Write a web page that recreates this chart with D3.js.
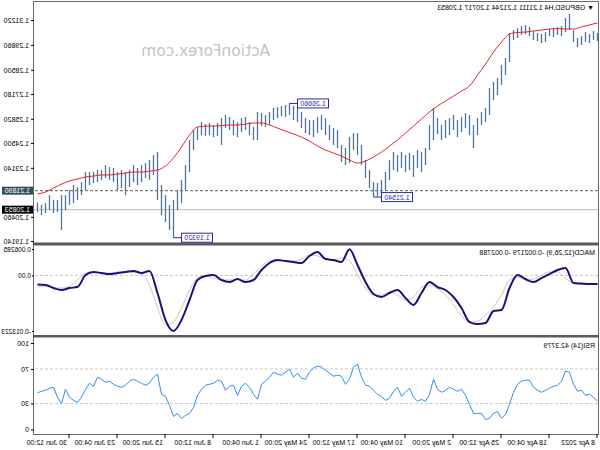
<!DOCTYPE html>
<html>
<head>
<meta charset="utf-8">
<script src="https://cdn.jsdelivr.net/npm/d3@7"></script>
<style>
  body { margin: 0; background: #fff; }
  svg { display: block; }
  .ax text { font-family: "Liberation Sans", Arial, sans-serif; font-size: 7px; fill: #000; }
  .ax line { stroke: #000; }
  .ax path { display: none; }
</style>
</head>
<body>
<svg id="chart" width="600" height="450"></svg>
<script>
// GBPUSD H4, one entry every ~2.7 H4 bars (8 Apr -> early Jul 2022)
const highs = [
  1.3051, 1.3062, 1.3045, 1.3056, 1.3034, 1.3024, 1.3067, 1.3155, 1.3133, 1.3089,
  1.3084, 1.3078, 1.3073, 1.3056, 1.3045, 1.3051, 1.3062, 1.3084, 1.3095, 1.3089,
  1.3078, 1.3067, 1.3051, 1.2914, 1.2876, 1.2805, 1.2783, 1.2750, 1.2641, 1.2619,
  1.2586, 1.2548, 1.2603, 1.2613, 1.2592, 1.2575, 1.2603, 1.2586, 1.2575, 1.2548,
  1.2586, 1.2641, 1.2548, 1.2422, 1.2400, 1.2411, 1.2384, 1.2395, 1.2384, 1.2400,
  1.2384, 1.2400, 1.2357, 1.2291, 1.2247, 1.2231, 1.2236, 1.2302, 1.2357, 1.2439,
  1.2504, 1.2504, 1.2482, 1.2422, 1.2439, 1.2521, 1.2531, 1.2548, 1.2586, 1.2603,
  1.2592, 1.2575, 1.2575, 1.2586, 1.2619, 1.2641, 1.2652, 1.2666, 1.2657, 1.2652,
  1.2646, 1.2641, 1.2619, 1.2603, 1.2613, 1.2619, 1.2537, 1.2564, 1.2592, 1.2586,
  1.2564, 1.2575, 1.2592, 1.2603, 1.2586, 1.2559, 1.2548, 1.2559, 1.2553, 1.2564,
  1.2537, 1.2521, 1.2466, 1.2329, 1.2247, 1.2192, 1.2138, 1.2111, 1.2165, 1.2220,
  1.2400, 1.2384, 1.2357, 1.2340, 1.2329, 1.2313, 1.2329, 1.2302, 1.2291, 1.2302,
  1.2291, 1.2313, 1.2318, 1.2329, 1.2302, 1.2302, 1.2291, 1.2291, 1.2291, 1.2236,
  1.2209, 1.2220, 1.2192, 1.2165, 1.2165, 1.2138, 1.2138, 1.2165, 1.2121, 1.2111,
  1.2124
];
const lows = [
  1.3007, 1.3013, 1.2996, 1.3002, 1.2985, 1.2974, 1.3002, 1.3067, 1.3056, 1.3034,
  1.3040, 1.3029, 1.3034, 1.3002, 1.2996, 1.3007, 1.3013, 1.3034, 1.3045, 1.3040,
  1.3024, 1.3013, 1.2892, 1.2821, 1.2767, 1.2712, 1.2685, 1.2603, 1.2564, 1.2548,
  1.2493, 1.2422, 1.2493, 1.2531, 1.2510, 1.2482, 1.2521, 1.2493, 1.2477, 1.2466,
  1.2499, 1.2466, 1.2411, 1.2329, 1.2291, 1.2313, 1.2264, 1.2302, 1.2291, 1.2313,
  1.2291, 1.2302, 1.2247, 1.2192, 1.2165, 1.2160, 1.2154, 1.2203, 1.2258, 1.2329,
  1.2384, 1.2411, 1.2340, 1.2329, 1.2346, 1.2422, 1.2439, 1.2466, 1.2493, 1.2521,
  1.2504, 1.2482, 1.2493, 1.2504, 1.2531, 1.2564, 1.2575, 1.2603, 1.2592, 1.2597,
  1.2586, 1.2575, 1.2548, 1.2537, 1.2542, 1.2466, 1.2466, 1.2493, 1.2521, 1.2510,
  1.2482, 1.2493, 1.2521, 1.2531, 1.2439, 1.2488, 1.2482, 1.2493, 1.2488, 1.2493,
  1.2466, 1.2411, 1.2291, 1.2192, 1.2121, 1.2083, 1.1932, 1.1974, 1.2018, 1.2056,
  1.2138, 1.2275, 1.2247, 1.2258, 1.2236, 1.2220, 1.2236, 1.2209, 1.2165, 1.2203,
  1.2192, 1.2236, 1.2247, 1.2258, 1.2247, 1.2236, 1.2231, 1.2220, 1.2192, 1.2165,
  1.2138, 1.2121, 1.2111, 1.2083, 1.1974, 1.2072, 1.2067, 1.2083, 1.2067, 1.2056,
  1.2072
];
// moving average, macd and signal: one value every 2 entries above
const maValues = [
  1.3106, 1.3095, 1.3084, 1.3073, 1.3073, 1.3075, 1.3073, 1.3067, 1.3062, 1.3056,
  1.3054, 1.3045, 1.3002, 1.2947, 1.2881, 1.2821, 1.2761, 1.2734, 1.2706, 1.2679,
  1.2652, 1.2619, 1.2581, 1.2542, 1.2504, 1.2466, 1.2433, 1.2400, 1.2373, 1.2351,
  1.2340, 1.2357, 1.2378, 1.2395, 1.2411, 1.2433, 1.2460, 1.2482, 1.2499, 1.2515,
  1.2531, 1.2548, 1.2559, 1.2559, 1.2553, 1.2548, 1.2548, 1.2545, 1.2542, 1.2542,
  1.2537, 1.2493, 1.2428, 1.2368, 1.2324, 1.2302, 1.2296, 1.2291, 1.2291, 1.2285,
  1.2280, 1.2275, 1.2275, 1.2269, 1.2264, 1.2253, 1.2242, 1.2225, 1.2203, 1.2182,
  1.2171
];
const macdMain = [
  -0.00205, -0.00205, -0.00193, -0.00181, 0.00176, 0.00128, 0.00033, -0.00062, -0.00157, -0.00086,
  0.00010, -0.00300, -0.00823, -0.00847, -0.01133, -0.01156, -0.01109, -0.00776, -0.00514, -0.00347,
  -0.00276, -0.00157, -0.00419, -0.00704, -0.00538, -0.00347, -0.00419, -0.00514, -0.00443, -0.00157,
  0.00247, 0.00620, 0.00319, 0.00366, 0.00390, 0.00557, 0.00462, 0.00295, 0.00319, 0.00343,
  0.00366, 0.00295, 0.00128, -0.00109, -0.00157, -0.00086, -0.00157, -0.00109, 0.00010, -0.00014,
  -0.00109, -0.00585, -0.01061, -0.01322, -0.01061, -0.00419, 0.00105, 0.00057, 0.00105, 0.00081,
  0.00057, 0.00033, 0.00057, 0.00081, 0.00010, -0.00276, -0.00300, -0.00347, -0.00300, -0.00228,
  -0.00218
];
const macdSignal = [
  -0.00181, -0.00205, -0.00205, -0.00193, -0.00062, 0.00081, 0.00081, 0.00010, -0.00086, -0.00109,
  -0.00038, -0.00109, -0.00466, -0.00752, -0.00942, -0.01085, -0.01109, -0.00966, -0.00704, -0.00466,
  -0.00324, -0.00228, -0.00276, -0.00514, -0.00585, -0.00466, -0.00395, -0.00466, -0.00466, -0.00300,
  0.00010, 0.00343, 0.00414, 0.00366, 0.00390, 0.00462, 0.00485, 0.00390, 0.00343, 0.00343,
  0.00366, 0.00343, 0.00224, 0.00033, -0.00109, -0.00109, -0.00109, -0.00109, -0.00062, -0.00014,
  -0.00062, -0.00347, -0.00776, -0.01109, -0.01180, -0.00776, -0.00228, 0.00033, 0.00081, 0.00081,
  0.00081, 0.00057, 0.00057, 0.00081, 0.00057, -0.00109, -0.00252, -0.00300, -0.00300, -0.00252,
  -0.00279
];
const rsiValues = [
  32.6, 37.2, 40.7, 39.5, 45.3, 44.2, 52.3, 66.3, 67.4, 55.8,
  51.2, 50.0, 47.7, 45.3, 43.0, 45.3, 48.8, 57.0, 57.0, 55.8,
  52.3, 43.0, 29.1, 17.4, 12.8, 20.9, 18.6, 12.8, 11.6, 18.6,
  18.6, 18.6, 29.1, 39.5, 46.5, 44.2, 46.5, 48.8, 45.3, 43.0,
  46.5, 58.1, 40.7, 32.6, 34.9, 32.6, 37.2, 47.7, 43.0, 38.4,
  48.8, 44.2, 36.0, 33.7, 38.4, 40.7, 45.3, 50.0, 51.2, 60.5,
  75.6, 72.1, 58.1, 52.3, 61.6, 62.8, 61.6, 65.1, 68.6, 72.1,
  73.3, 70.9, 66.3, 58.1, 59.3, 65.1, 60.5, 69.8, 66.3, 62.8,
  64.0, 66.3, 60.5, 55.8, 52.3, 34.9, 40.7, 48.8, 53.5, 50.0,
  39.5, 51.2, 50.0, 45.3, 55.8, 57.0, 53.5, 52.3, 51.2, 46.5,
  39.5, 25.6, 18.6, 16.3, 12.8, 18.6, 15.1, 27.9, 38.4, 40.7,
  64.0, 60.5, 53.5, 51.2, 53.5, 55.8, 58.1, 55.8, 51.2, 48.8,
  50.0, 52.3, 55.8, 54.7, 58.1, 60.5, 50.0, 53.5, 46.5, 37.2,
  31.4, 33.7, 37.2, 46.5, 30.2, 37.2, 48.8, 47.7, 45.3, 44.2,
  42.4
];
const timeLabels = ["8 Apr 2022", "18 Apr 04:00", "25 Apr 12:00", "2 May 20:00", "10 May 04:00",
  "17 May 12:00", "24 May 20:00", "1 Jun 04:00", "8 Jun 12:00", "15 Jun 20:00", "23 Jun 04:00", "30 Jun 12:00"];
const priceTicks = [1.31220, 1.29860, 1.28500, 1.27180, 1.25820, 1.24500, 1.23140, 1.20460, 1.19140];
const macdTicks = [0.006285, 0, -0.013223];
const rsiTicks = [100, 70, 30, 0];
const extremes = [
  { bar: 77, price: 1.26660 },
  { bar: 56, price: 1.21540 },
  { bar: 106, price: 1.19320 }
];
const hLinePrice = 1.21890;
const bidPrice = 1.20853;
const lastBar = { open: 1.21111, high: 1.21244, low: 1.20717, close: 1.20853 };
const macdNow = [-0.002179, -0.002788];
const rsiNow = 42.3779;

const font = '"Liberation Sans", Arial, sans-serif';
const svg = d3.select("#chart");
// the whole terminal picture is mirrored left-right
const g = svg.append("g").attr("transform", "translate(600,0) scale(-1,1)");

const x = d3.scaleLinear().domain([0, highs.length - 1]).range([2.5, 562.5]);
const yP = d3.scaleLinear().domain([1.19140, 1.31220]).range([241, 20]);
const yM = d3.scaleLinear().domain([-0.013223, 0.006285]).range([331, 249]);
const yR = d3.scaleLinear().domain([0, 100]).range([429.5, 343]);
const sub = i => x(i * 2);

// frame + panel separators
g.append("rect").attr("x", 1.5).attr("y", 1.5).attr("width", 565).attr("height", 433)
  .attr("fill", "none").attr("stroke", "#6a6a6a");
g.append("rect").attr("x", 1).attr("y", 242.5).attr("width", 566).attr("height", 3).attr("fill", "#5a5a5a");
g.append("rect").attr("x", 1).attr("y", 335).attr("width", 566).attr("height", 2.5).attr("fill", "#5a5a5a");

// watermark
g.append("text").attr("x", 330).attr("y", 55.5)
  .attr("font-family", '"DejaVu Sans", sans-serif').attr("font-size", 15.5)
  .attr("fill", "#c4c4c4").text("ActionForex.com");

// horizontal lines
g.append("line").attr("x1", 2).attr("x2", 566).attr("y1", yP(hLinePrice)).attr("y2", yP(hLinePrice))
  .attr("stroke", "#606060").attr("stroke-dasharray", "3,2");
g.append("line").attr("x1", 2).attr("x2", 566).attr("y1", yP(bidPrice)).attr("y2", yP(bidPrice))
  .attr("stroke", "#bdbdbd");

// price bars
g.append("g").selectAll("line").data(highs).join("line")
  .attr("x1", (d, i) => x(i)).attr("x2", (d, i) => x(i))
  .attr("y1", d => yP(d)).attr("y2", (d, i) => yP(lows[i]))
  .attr("stroke", "#4f7592").attr("stroke-width", 1.3);

// moving average
g.append("path").datum(maValues)
  .attr("d", d3.line().x((d, i) => sub(i)).y(d => yP(d)).curve(d3.curveMonotoneX))
  .attr("fill", "none").attr("stroke", "#e8242a").attr("stroke-width", 1);

// high/low annotations
extremes.forEach(e => {
  const bx = x(e.bar), by = yP(e.price);
  g.append("line").attr("x1", bx).attr("x2", bx - 8).attr("y1", by).attr("y2", by)
    .attr("stroke", "#2a2aa0");
  g.append("rect").attr("x", bx - 39).attr("y", by - 4.5).attr("width", 31).attr("height", 9)
    .attr("fill", "#fff").attr("stroke", "#2a2aa0");
  g.append("text").attr("x", bx - 23.5).attr("y", by + 2.6).attr("text-anchor", "middle")
    .attr("font-family", font).attr("font-size", 7).attr("fill", "#2a2aa0")
    .text(e.price.toFixed(5));
});

// header
g.append("text").attr("x", 6).attr("y", 10).attr("font-family", font).attr("font-size", 7)
  .attr("fill", "#000")
  .text("\u25BC GBPUSD,H4  " + [lastBar.open, lastBar.high, lastBar.low, lastBar.close].map(v => v.toFixed(5)).join(" "));

// price axis
g.append("g").attr("class", "ax").attr("transform", "translate(566,0)")
  .call(d3.axisRight(yP).tickValues(priceTicks).tickFormat(d3.format(".5f")).tickSize(3).tickPadding(2));
[[hLinePrice, "#34505e"], [bidPrice, "#000"]].forEach(([v, c]) => {
  g.append("rect").attr("x", 567).attr("y", yP(v) - 4).attr("width", 31).attr("height", 8).attr("fill", c);
  g.append("text").attr("x", 570).attr("y", yP(v) + 2.5).attr("font-family", font).attr("font-size", 7)
    .attr("fill", "#fff").text(v.toFixed(5));
});

// MACD panel
[0].forEach(v => g.append("line").attr("x1", 2).attr("x2", 566).attr("y1", yM(v)).attr("y2", yM(v))
  .attr("stroke", "#c8c8c8").attr("stroke-dasharray", "3,2"));
g.append("path").datum(macdSignal)
  .attr("d", d3.line().x((d, i) => sub(i)).y(d => yM(d)).curve(d3.curveMonotoneX))
  .attr("fill", "none").attr("stroke", "#c9c9bd").attr("stroke-width", 1);
g.append("path").datum(macdMain)
  .attr("d", d3.line().x((d, i) => sub(i)).y(d => yM(d)).curve(d3.curveMonotoneX))
  .attr("fill", "none").attr("stroke", "#14147a").attr("stroke-width", 2);
g.append("text").attr("x", 5).attr("y", 255).attr("font-family", font).attr("font-size", 7)
  .text("MACD(12,26,9) " + macdNow.map(v => v.toFixed(6)).join(" "));
const macdAxis = g.append("g").attr("class", "ax").attr("transform", "translate(566,0)")
  .call(d3.axisRight(yM).tickValues(macdTicks).tickFormat(d => d === 0 ? "0.00" : d.toFixed(6)).tickSize(2).tickPadding(1));
macdAxis.selectAll("text").style("font-size", "6.6px");

// RSI panel
[70, 30].forEach(v => g.append("line").attr("x1", 2).attr("x2", 566).attr("y1", yR(v)).attr("y2", yR(v))
  .attr("stroke", "#c8c8c8").attr("stroke-dasharray", "3,2"));
g.append("path").datum(rsiValues)
  .attr("d", d3.line().x((d, i) => x(i)).y(d => yR(d)))
  .attr("fill", "none").attr("stroke", "#2f8ef0").attr("stroke-width", 1);
g.append("text").attr("x", 5).attr("y", 348).attr("font-family", font).attr("font-size", 7)
  .text("RSI(14) " + rsiNow.toFixed(4));
g.append("g").attr("class", "ax").attr("transform", "translate(566,0)")
  .call(d3.axisRight(yR).tickValues(rsiTicks).tickFormat(d3.format("d")).tickSize(3).tickPadding(2));

// time axis
const tAxis = g.append("g").attr("class", "ax").attr("transform", "translate(0,434)")
  .call(d3.axisBottom(x).tickValues(timeLabels.map((d, i) => i * 12))
    .tickFormat((d, i) => timeLabels[i]).tickSize(4).tickPadding(2));
tAxis.selectAll("text").attr("text-anchor", "start").attr("x", 2).attr("y", 6).attr("dy", "0.71em");
</script>
</body>
</html>
